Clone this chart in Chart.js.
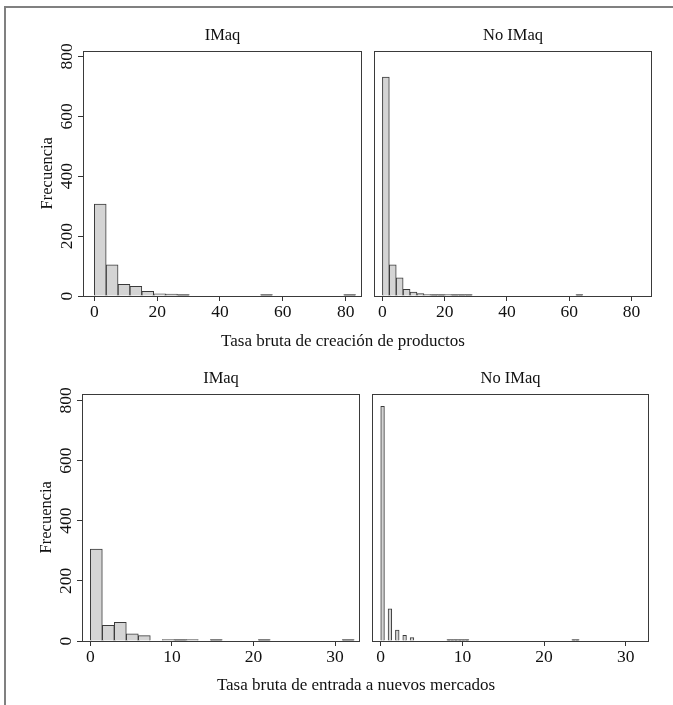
<!DOCTYPE html>
<html>
<head>
<meta charset="utf-8">
<script src="https://cdn.jsdelivr.net/npm/chart.js@4.4.1/dist/chart.umd.min.js"></script>
<style>
  body { margin: 0; background: #fff; }
  #fig { position: relative; width: 673px; height: 705px; overflow: hidden; font-family: 'Liberation Serif', serif; color: #111; }
  #frame { position: absolute; left: 4px; top: 6px; width: 720px; height: 720px; border-top: 2px solid #808080; border-left: 2px solid #808080; }
  canvas { position: absolute; }
  .xt { position: absolute; font-size: 17px; line-height: 17px; white-space: nowrap; transform: translate(-50%, -50%); }
</style>
</head>
<body>
<div id="fig">
  <div id="frame"></div>
  <canvas id="c1"></canvas>
  <canvas id="c2"></canvas>
  <canvas id="c3"></canvas>
  <canvas id="c4"></canvas>
  <div class="xt" id="xt1" style="left:343px; top:340px;"></div>
  <div class="xt" id="xt2" style="left:356px; top:684px;"></div>
</div>
<script>
const FONT = "'Liberation Serif', 'Times New Roman', serif";

// textos
const panelTitles = ['IMaq', 'No IMaq', 'IMaq', 'No IMaq'];
const xTitleTop = 'Tasa bruta de creación de productos';
const xTitleBottom = 'Tasa bruta de entrada a nuevos mercados';
const yTitle = 'Frecuencia';

// ticks
const yTicks = [0, 200, 400, 600, 800];
const xTicksTop = [0, 20, 40, 60, 80];
const xTicksBottom = [0, 10, 20, 30];

// histogramas: ancho de bin y frecuencia por bin (desde 0)
const creacionIMaqWidth = 3.78;
const creacionIMaq = [307, 104, 39, 32, 16, 7, 6, 3, 0, 0, 0, 0, 0, 0, 1, 0, 0, 0, 0, 0, 0, 1];

const creacionNoIMaqWidth = 2.22;
const creacionNoIMaq = [731, 104, 61, 22, 13, 8, 5, 4, 2, 5, 1, 1, 1, 0, 0, 0, 0, 0, 0, 0,
                        0, 0, 0, 0, 0, 0, 0, 0, 1];

const entradaIMaqWidth = 1.47;
const entradaIMaq = [306, 52, 62, 24, 18, 0, 5, 2, 5, 0, 3, 0, 0, 0, 1, 0, 0, 0, 0, 0, 0, 1];

const entradaNoIMaqWidth = 0.45;
const entradaNoIMaq = [780, 0, 107, 0, 36, 0, 19, 0, 11, 0, 0, 0, 0, 0, 0, 0, 0, 0, 1, 1,
                       1, 1, 1, 1, 0, 0, 0, 0, 0, 0, 0, 0, 0, 0, 0, 0, 0, 0, 0, 0,
                       0, 0, 0, 0, 0, 0, 0, 0, 0, 0, 0, 0, 1, 1];

document.getElementById('xt1').textContent = xTitleTop;
document.getElementById('xt2').textContent = xTitleBottom;

// caja del panel + etiquetas del eje y giradas
const boxPlugin = {
  id: 'box',
  afterDraw(chart, args, opts) {
    const { ctx, chartArea: a } = chart;
    const l = Math.round(a.left), t = Math.round(a.top), r = Math.round(a.right), b = Math.round(a.bottom);
    ctx.save();
    ctx.strokeStyle = '#3a3a3a';
    ctx.lineWidth = 1;
    ctx.strokeRect(l + 0.5, t + 0.5, r - l - 1, b - t);
    if (opts.labels) {
      const ys = chart.scales.y;
      ctx.fillStyle = '#111';
      ctx.font = '17.5px ' + FONT;
      ctx.textAlign = 'center';
      ctx.textBaseline = 'alphabetic';
      ys.ticks.forEach(tk => {
        const py = ys.getPixelForValue(tk.value);
        ctx.save();
        ctx.translate(l - 11, py);
        ctx.rotate(-Math.PI / 2);
        ctx.fillText(String(tk.value), 0, 0);
        ctx.restore();
      });
    }
    ctx.restore();
  }
};

function makePanel(id, area, counts, binWidth, xMin, xMax, xTicks, yMax, title, isLeft) {
  const yW = isLeft ? 50 : 10;
  const canvas = document.getElementById(id);
  canvas.width = (area.r - area.l) + yW + 6;
  canvas.height = (area.b - area.t) + 45 + 40;
  canvas.style.left = (area.l - yW) + 'px';
  canvas.style.top = (area.t - 45) + 'px';

  const data = counts.map((c, i) => ({ x: (i + 0.5) * binWidth, y: c > 0 ? c : null }));

  new Chart(canvas.getContext('2d'), {
    type: 'bar',
    data: {
      datasets: [{
        data: data,
        // barras muy bajas se ven como una línea oscura
        backgroundColor: c => (c.raw && c.raw.y <= 4) ? '#3a3a3a' : '#d4d4d4',
        borderColor: '#3a3a3a',
        borderWidth: 1,
        borderSkipped: 'start',
        barPercentage: 1,
        categoryPercentage: 1,
        minBarLength: 1.5
      }]
    },
    options: {
      responsive: false,
      animation: false,
      layout: { padding: { left: 0, right: 6, top: 0, bottom: 0 } },
      plugins: {
        legend: { display: false },
        tooltip: { enabled: false },
        title: {
          display: true,
          text: title,
          fullSize: false,
          color: '#111',
          font: { family: FONT, size: 16.5, weight: 'normal', lineHeight: 1 },
          padding: { top: 22, bottom: 7 }
        },
        box: { labels: isLeft }
      },
      scales: {
        x: {
          type: 'linear',
          min: xMin,
          max: xMax,
          offset: false,
          afterBuildTicks: s => { s.ticks = xTicks.map(v => ({ value: v })); },
          afterFit: s => { s.height = 40; },
          grid: { display: true, drawOnChartArea: false, drawTicks: true, tickLength: 5, color: '#333', offset: false },
          border: { display: false },
          ticks: { color: '#111', font: { family: FONT, size: 17.5 }, padding: 1, maxRotation: 0, autoSkip: false }
        },
        y: {
          min: 0,
          max: yMax,
          afterBuildTicks: s => { s.ticks = yTicks.map(v => ({ value: v })); },
          afterFit: s => { s.width = yW; },
          grid: { display: true, drawOnChartArea: false, drawTicks: isLeft, tickLength: 5, color: '#333' },
          border: { display: false },
          ticks: { display: false },
          title: {
            display: isLeft,
            text: yTitle,
            color: '#111',
            font: { family: FONT, size: 16.5, lineHeight: 1 },
            padding: { top: 6, bottom: 0 }
          }
        }
      }
    },
    plugins: [boxPlugin]
  });
}

makePanel('c1', { l: 83, t: 50, r: 362, b: 296 }, creacionIMaq, creacionIMaqWidth, -3.6, 85.2, xTicksTop, 820, panelTitles[0], true);
makePanel('c2', { l: 374, t: 50, r: 652, b: 296 }, creacionNoIMaq, creacionNoIMaqWidth, -2.7, 86.6, xTicksTop, 820, panelTitles[1], false);
makePanel('c3', { l: 82, t: 393, r: 360, b: 641 }, entradaIMaq, entradaIMaqWidth, -1.02, 33.05, xTicksBottom, 823, panelTitles[2], true);
makePanel('c4', { l: 372, t: 393, r: 649, b: 641 }, entradaNoIMaq, entradaNoIMaqWidth, -1.07, 32.85, xTicksBottom, 823, panelTitles[3], false);
</script>
</body>
</html>
